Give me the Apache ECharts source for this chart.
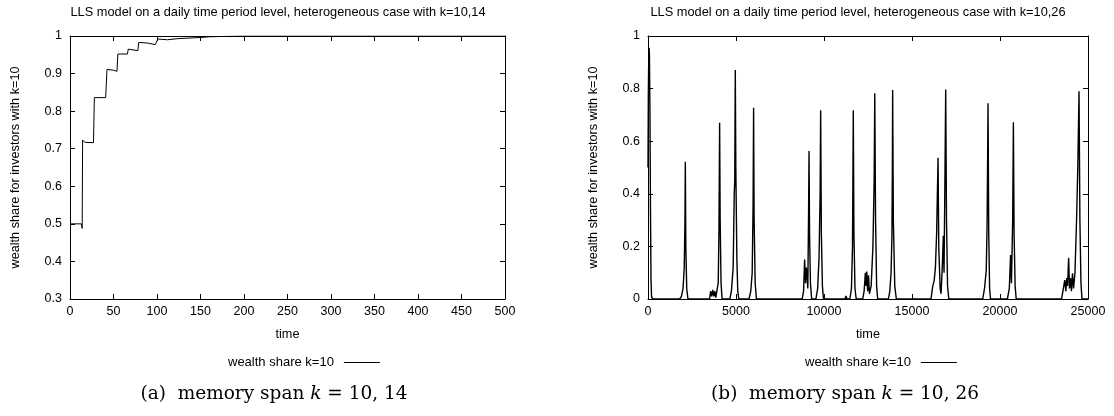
<!DOCTYPE html>
<html>
<head>
<meta charset="utf-8">
<script src="https://cdn.jsdelivr.net/npm/echarts@6/dist/echarts.min.js"></script>
<style>html,body{margin:0;padding:0;background:#fff}#c{width:1114px;height:416px}</style>
</head>
<body>
<div id="c"></div>
<script>
// ---- data ----
const titleA = 'LLS model on a daily time period level, heterogeneous case with k=10,14';
const titleB = 'LLS model on a daily time period level, heterogeneous case with k=10,26';
const seriesName = 'wealth share k=10';
const yName = 'wealth share for investors with k=10';
const xName = 'time';

// (a) k=10,14 : [time, share]
const shareA = [
  [0,0.5],[13,0.5],[14,0.488],[14.5,0.723],[17,0.717],[27,0.716],[28,0.836],[41,0.836],
  [42.5,0.911],[50,0.909],[54,0.906],[55,0.952],[66,0.952],[67,0.965],[69,0.961],[78,0.961],
  [79,0.983],[90,0.981],[98,0.977],[100,0.978],[101,0.992],[112,0.99],[114,0.993],[124,0.993],
  [126,0.995],[150,0.996],[160,0.998],[200,1.0],[500,1.0]
];

// (b) k=10,26 : [time, share]
const shareB = [
  [0,0.5],[20,0.78],[40,0.9],[60,0.955],[80,0.93],[110,0.72],[140,0.35],[170,0.08],[200,0.01],[260,0],
  [1800,0],[1900,0.01],[1990,0.04],[2060,0.12],[2100,0.3],[2120,0.522],[2150,0.2],[2200,0.04],[2270,0],
  [3500,0],[3560,0.03],[3620,0.01],[3680,0.035],[3740,0.01],[3800,0.03],[3850,0.005],[3920,0.01],
  [3990,0.06],[4030,0.25],[4070,0.67],[4100,0.3],[4150,0.06],[4210,0],
  [4650,0],[4740,0.03],[4840,0.12],[4900,0.4],[4930,0.45],[4945,0.68],[4960,0.871],[4990,0.5],[5050,0.15],[5100,0.03],[5160,0],
  [5740,0],[5840,0.03],[5920,0.1],[5970,0.35],[6000,0.727],[6030,0.3],[6090,0.06],[6160,0],
  [8760,0],[8840,0.03],[8900,0.15],[8950,0.06],[9000,0.12],[9080,0.04],[9120,0.3],[9150,0.563],[9180,0.24],[9230,0.06],[9300,0],
  [9540,0],[9640,0.04],[9720,0.16],[9780,0.4],[9810,0.718],[9850,0.25],[9910,0.05],[9970,0],
  [11200,0],[11250,0.012],[11300,0],
  [11470,0],[11560,0.04],[11620,0.2],[11665,0.718],[11700,0.25],[11760,0.04],[11830,0],
  [12200,0],[12280,0.03],[12350,0.1],[12390,0.05],[12430,0.104],[12480,0.03],[12530,0.09],[12580,0.02],
  [12680,0.05],[12780,0.2],[12850,0.45],[12885,0.782],[12930,0.3],[12990,0.05],[13050,0],
  [13660,0],[13740,0.03],[13810,0.1],[13860,0.24],[13885,0.5],[13900,0.795],[13940,0.3],[14020,0.05],[14110,0],
  [16080,0],[16180,0.05],[16260,0.07],[16330,0.12],[16400,0.25],[16480,0.537],[16520,0.2],[16600,0.04],[16650,0.02],
  [16720,0.12],[16780,0.24],[16820,0.1],[16870,0.45],[16915,0.797],[16960,0.3],[17020,0.05],[17090,0],
  [19020,0],[19120,0.04],[19220,0.11],[19270,0.3],[19320,0.744],[19360,0.25],[19410,0.04],[19460,0],
  [20420,0],[20530,0.04],[20600,0.167],[20650,0.06],[20720,0.3],[20760,0.672],[20800,0.25],[20860,0.05],[20920,0],
  [23500,0],[23600,0.04],[23680,0.072],[23740,0.03],[23790,0.08],[23840,0.05],[23900,0.157],[23950,0.04],[24010,0.08],
  [24060,0.03],[24120,0.098],[24180,0.04],[24260,0.1],[24350,0.3],[24420,0.5],[24490,0.79],[24540,0.3],[24600,0.06],[24660,0],[25000,0]
];

// axis ranges
const xA = {min: 0, max: 500, interval: 50};
const yA = {min: 0.3, max: 1, interval: 0.1};
const xB = {min: 0, max: 25000, interval: 5000};
const yB = {min: 0, max: 1, interval: 0.2};

// ---- chart ----
const FONT = 'Liberation Sans, Arial, sans-serif';
const SERIF = 'DejaVu Serif, Liberation Serif, serif';
const grids = [
  {left: 70, right: 609, top: 36, bottom: 117},
  {left: 648, right: 26, top: 36, bottom: 117}
];
function fmt(v) { return String(Math.round(v * 1000) / 1000); }
function mkX(r, gi, main) {
  return {
    type: 'value', gridIndex: gi, min: r.min, max: r.max, interval: r.interval,
    position: main ? 'bottom' : 'top',
    name: main ? xName : '', nameLocation: 'middle', nameGap: 29,
    nameTextStyle: {fontFamily: FONT, fontSize: 12.7, color: '#000'},
    axisLine: {show: true, onZero: false, lineStyle: {color: '#000', width: 1}},
    axisTick: {show: true, inside: true, length: 5, lineStyle: {color: '#000'}},
    axisLabel: {show: main, fontFamily: FONT, fontSize: 12.5, color: '#000', margin: 6, formatter: fmt},
    splitLine: {show: false}
  };
}
function mkY(r, gi, main) {
  return {
    type: 'value', gridIndex: gi, min: r.min, max: r.max, interval: r.interval,
    position: main ? 'left' : 'right',
    name: main ? yName : '', nameLocation: 'middle', nameGap: 48, nameRotate: 90,
    nameTextStyle: {fontFamily: FONT, fontSize: 12.7, color: '#000'},
    axisLine: {show: true, onZero: false, lineStyle: {color: '#000', width: 1}},
    axisTick: {show: true, inside: true, length: 5, lineStyle: {color: '#000'}},
    axisLabel: {show: main, fontFamily: FONT, fontSize: 12.5, color: '#000', margin: 8, formatter: fmt},
    splitLine: {show: false}
  };
}
const chart = echarts.init(document.getElementById('c'), null, {renderer: 'canvas'});
const capRich = {
  a: {fontFamily: SERIF, fontSize: 18.5, color: '#000'},
  i: {fontFamily: SERIF, fontSize: 18.5, fontStyle: 'italic', color: '#000'}
};
function legendAt(x) {
  return {left: x, top: 351, align: 'right', icon: 'rect', itemWidth: 36, itemHeight: 1,
    itemStyle: {color: '#000'}, textStyle: {fontFamily: FONT, fontSize: 13, color: '#000', padding: [0, 5, 0, 0]},
    data: [seriesName], selectedMode: false};
}
chart.setOption({
  animation: false,
  backgroundColor: '#fff',
  grid: grids,
  xAxis: [mkX(xA, 0, true), mkX(xA, 0, false), mkX(xB, 1, true), mkX(xB, 1, false)],
  yAxis: [mkY(yA, 0, true), mkY(yA, 0, false), mkY(yB, 1, true), mkY(yB, 1, false)],
  legend: [legendAt(223), legendAt(800)],
  series: [
    {name: seriesName, type: 'line', xAxisIndex: 0, yAxisIndex: 0, data: shareA, showSymbol: false, symbol: 'none',
     lineStyle: {color: '#000', width: 1}, itemStyle: {color: '#000'}},
    {name: seriesName, type: 'line', xAxisIndex: 2, yAxisIndex: 2, data: shareB, showSymbol: false, symbol: 'none',
     lineStyle: {color: '#000', width: 1.4}, itemStyle: {color: '#000'}}
  ],
  graphic: [
    {type: 'text', x: 278, y: 12, style: {text: titleA, fontFamily: FONT, fontSize: 12.8, fill: '#000', align: 'center', verticalAlign: 'middle'}},
    {type: 'text', x: 858, y: 12, style: {text: titleB, fontFamily: FONT, fontSize: 12.8, fill: '#000', align: 'center', verticalAlign: 'middle'}},
    {type: 'text', x: 274, y: 394, style: {text: '{a|(a)  memory span }{i|k}{a| = 10, 14}', rich: capRich, align: 'center', verticalAlign: 'middle'}},
    {type: 'text', x: 845, y: 394, style: {text: '{a|(b)  memory span }{i|k}{a| = 10, 26}', rich: capRich, align: 'center', verticalAlign: 'middle'}}
  ]
});
</script>
</body>
</html>
